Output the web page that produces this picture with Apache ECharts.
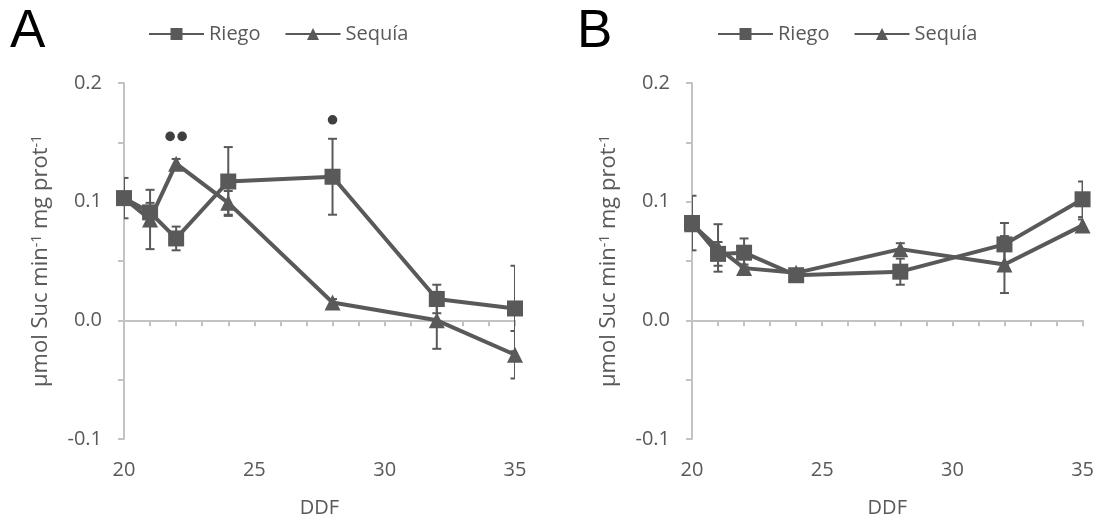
<!DOCTYPE html>
<html>
<head>
<meta charset="utf-8">
<script src="https://cdn.jsdelivr.net/npm/echarts@6/dist/echarts.min.js"></script>
<style>
  html, body { margin: 0; padding: 0; background: #fff; }
  #chart { width: 1097px; height: 523px; }
</style>
</head>
<body>
<div id="chart"></div>
<script>
// Sampling days (DDF) shared by both panels
var ddf = [20, 21, 22, 24, 28, 32, 35];

// Panel A
var riegoA     = [0.103, 0.091, 0.069, 0.117, 0.121, 0.018, 0.010];
var riegoAErr  = [0.017, 0.008, 0.010, 0.029, 0.032, 0.012, 0.036];
var sequiaA    = [0.103, 0.085, 0.132, 0.099, 0.015, 0.000, -0.029];
var sequiaAErr = [0.005, 0.025, 0.004, 0.010, 0.003, 0.024, 0.020];

// Panel B
var riegoB     = [0.082, 0.056, 0.057, 0.038, 0.041, 0.064, 0.102];
var riegoBErr  = [0.023, 0.010, 0.012, 0.004, 0.011, 0.018, 0.015];
var sequiaB    = [0.081, 0.061, 0.044, 0.040, 0.060, 0.047, 0.080];
var sequiaBErr = [0.004, 0.020, 0.003, 0.003, 0.005, 0.024, 0.005];

// Significance dots over panel A (position and number of dots)
var sigX = [22, 28];
var sigY = [0.155, 0.169];
var sigN = [2, 1];

// Axis ticks and labels
var yMin = -0.1, yMax = 0.2, yStep = 0.05;
var xMin = 20, xMax = 35, xStep = 1;
var panelLabels = ['A', 'B'];
var seriesNames = ['Riego', 'Sequía'];

var INK = '#595959';
var AXIS = '#c3c3c3';
var FONT = 'Open Sans';

function pairs(xs, ys) { return xs.map(function (x, i) { return [x, ys[i]]; }); }
function errRows(xs, ys, es) { return xs.map(function (x, i) { return [x, ys[i], es[i]]; }); }

function xAxisFor(gi) {
  return {
    type: 'value', gridIndex: gi, min: xMin, max: xMax, interval: xStep,
    name: 'DDF', nameLocation: 'middle', nameGap: 59,
    nameTextStyle: { color: INK, fontSize: 20, fontFamily: FONT },
    axisLine: { lineStyle: { color: AXIS, width: 2 } },
    axisTick: { show: true, length: 6, lineStyle: { color: AXIS, width: 2 } },
    splitLine: { show: false },
    axisLabel: {
      color: INK, fontSize: 20, fontFamily: FONT, margin: 21,
      formatter: function (v) { return v % 5 === 0 ? String(v) : ''; }
    }
  };
}

function yAxisFor(gi) {
  return {
    type: 'value', gridIndex: gi, min: yMin, max: yMax, interval: yStep,
    name: 'µmol Suc min{s|-1} mg prot{s|-1}',
    nameLocation: 'middle', nameRotate: 90, nameGap: 72,
    nameTextStyle: {
      color: INK, fontSize: 22, fontFamily: FONT,
      rich: { s: { color: INK, fontSize: 14, fontFamily: FONT, verticalAlign: 'top' } }
    },
    axisLine: { show: true, lineStyle: { color: AXIS, width: 2 } },
    axisTick: { show: true, length: 6, lineStyle: { color: AXIS, width: 2 } },
    splitLine: { show: false },
    axisLabel: {
      color: INK, fontSize: 20, fontFamily: FONT, margin: 22,
      formatter: function (v) {
        var t = v * 10;
        return Math.abs(t - Math.round(t)) < 1e-6 ? v.toFixed(1) : '';
      }
    }
  };
}

function lineSeries(name, gi, ys, symbol) {
  return {
    name: name, type: 'line', xAxisIndex: gi, yAxisIndex: gi,
    data: pairs(ddf, ys),
    symbol: symbol, symbolSize: symbol === 'rect' ? 16 : 16,
    lineStyle: { color: INK, width: 4 },
    itemStyle: { color: INK },
    z: 3
  };
}

function errorSeries(gi, ys, es) {
  return {
    type: 'custom', xAxisIndex: gi, yAxisIndex: gi, clip: true, z: 2,
    silent: true,
    data: errRows(ddf, ys, es),
    renderItem: function (params, api) {
      var x = api.value(0), y = api.value(1), e = api.value(2);
      var top = api.coord([x, y + e]);
      var bot = api.coord([x, y - e]);
      var half = 4.5;
      var st = { stroke: INK, lineWidth: 2 };
      return {
        type: 'group',
        children: [
          { type: 'line', shape: { x1: top[0], y1: top[1], x2: bot[0], y2: bot[1] }, style: st },
          { type: 'line', shape: { x1: top[0] - half, y1: top[1], x2: top[0] + half, y2: top[1] }, style: st },
          { type: 'line', shape: { x1: bot[0] - half, y1: bot[1], x2: bot[0] + half, y2: bot[1] }, style: st }
        ]
      };
    }
  };
}

function sigSeries(gi) {
  return {
    type: 'custom', xAxisIndex: gi, yAxisIndex: gi, z: 4, silent: true,
    data: sigX.map(function (x, i) { return [x, sigY[i], sigN[i]]; }),
    renderItem: function (params, api) {
      var c = api.coord([api.value(0), api.value(1)]);
      var n = api.value(2);
      var gap = 12;
      var kids = [];
      for (var k = 0; k < n; k++) {
        var cx = c[0] + (k - (n - 1) / 2) * gap;
        kids.push({ type: 'circle', shape: { cx: cx, cy: c[1], r: 4.8 }, style: { fill: '#3f3f3f' } });
      }
      return { type: 'group', children: kids };
    }
  };
}

function legendFor(left) {
  return {
    left: left, top: 24, padding: 0, itemGap: 24,
    itemWidth: 55, itemHeight: 15,
    data: seriesNames,
    textStyle: { color: INK, fontSize: 20, fontFamily: FONT }
  };
}

var chart = echarts.init(document.getElementById('chart'), null, { renderer: 'canvas' });

chart.setOption({
  backgroundColor: '#ffffff',
  animation: false,
  grid: [
    { left: 124, top: 83, width: 391, height: 359 },
    { left: 692, top: 83, width: 391, height: 359 }
  ],
  legend: [legendFor(148), legendFor(717)],
  xAxis: [xAxisFor(0), xAxisFor(1)],
  yAxis: [yAxisFor(0), yAxisFor(1)],
  graphic: [
    { type: 'text', left: 10, top: 6, style: { text: panelLabels[0], fontSize: 53, fontFamily: 'Liberation Sans', fill: '#000' } },
    { type: 'text', left: 577, top: 6, style: { text: panelLabels[1], fontSize: 53, fontFamily: 'Liberation Sans', fill: '#000' } }
  ],
  series: [
    errorSeries(0, riegoA, riegoAErr),
    errorSeries(0, sequiaA, sequiaAErr),
    lineSeries(seriesNames[0], 0, riegoA, 'rect'),
    lineSeries(seriesNames[1], 0, sequiaA, 'triangle'),
    sigSeries(0),
    errorSeries(1, riegoB, riegoBErr),
    errorSeries(1, sequiaB, sequiaBErr),
    lineSeries(seriesNames[0], 1, riegoB, 'rect'),
    lineSeries(seriesNames[1], 1, sequiaB, 'triangle')
  ]
});
</script>
</body>
</html>
